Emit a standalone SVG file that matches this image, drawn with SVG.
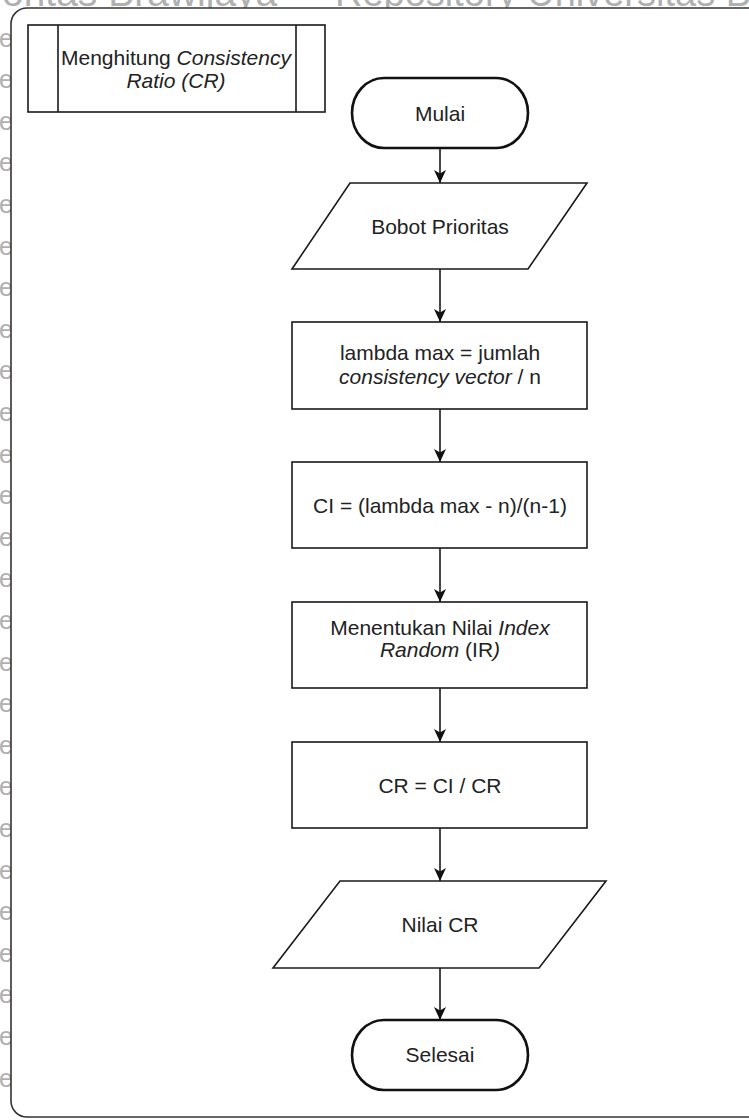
<svg xmlns="http://www.w3.org/2000/svg" width="749" height="1120" viewBox="0 0 749 1120">
  <style>
    .wm { font-family: "Liberation Sans", Arial, sans-serif; fill: #b0b0b0; }
    .wme { font-family: "Liberation Sans", Arial, sans-serif; fill: #b0b0b0; font-size: 25px; }
    .frame { fill: #ffffff; stroke: #333333; stroke-width: 1.6; }
    .shape { fill: #ffffff; stroke: #1a1a1a; stroke-width: 1.6; }
    .term { fill: #ffffff; stroke: #111111; stroke-width: 2.6; }
    .lbl { font-family: "Liberation Sans", Arial, sans-serif; font-size: 21px; fill: #222222; text-anchor: middle; }
    .it { font-style: italic; }
    .conn { stroke: #1a1a1a; stroke-width: 1.6; fill: none; marker-end: url(#arr); }
  </style>
  <defs>
    <marker id="arr" markerUnits="userSpaceOnUse" markerWidth="14" markerHeight="12" refX="13" refY="6" orient="auto">
      <path d="M0,0 L13,6 L0,12 L3.5,6 Z" fill="#111111"/>
    </marker>
  </defs>
  <rect x="0" y="0" width="749" height="1120" fill="#ffffff"/>
  <g id="watermark">
    <text class="wm" x="2" y="6" font-size="39">oritas Brawijaya</text>
    <text class="wm" x="335" y="6" font-size="38">Repository Universitas B</text>
    <text class="wme" x="-1" y="46.5">e</text>
    <text class="wme" x="-1" y="88.1">e</text>
    <text class="wme" x="-1" y="129.7">e</text>
    <text class="wme" x="-1" y="171.3">e</text>
    <text class="wme" x="-1" y="212.9">e</text>
    <text class="wme" x="-1" y="254.5">e</text>
    <text class="wme" x="-1" y="296.1">e</text>
    <text class="wme" x="-1" y="337.7">e</text>
    <text class="wme" x="-1" y="379.3">e</text>
    <text class="wme" x="-1" y="420.9">e</text>
    <text class="wme" x="-1" y="462.5">e</text>
    <text class="wme" x="-1" y="504.1">e</text>
    <text class="wme" x="-1" y="545.7">e</text>
    <text class="wme" x="-1" y="587.3">e</text>
    <text class="wme" x="-1" y="628.9">e</text>
    <text class="wme" x="-1" y="670.5">e</text>
    <text class="wme" x="-1" y="712.1">e</text>
    <text class="wme" x="-1" y="753.7">e</text>
    <text class="wme" x="-1" y="795.3">e</text>
    <text class="wme" x="-1" y="836.9">e</text>
    <text class="wme" x="-1" y="878.5">e</text>
    <text class="wme" x="-1" y="920.1">e</text>
    <text class="wme" x="-1" y="961.7">e</text>
    <text class="wme" x="-1" y="1003.3">e</text>
    <text class="wme" x="-1" y="1044.9">e</text>
    <text class="wme" x="-1" y="1086.5">e</text>
  </g>
  <rect id="frame" class="frame" x="11" y="8" width="760" height="1109" rx="16" ry="16"/>

  <g id="connectors">
    <line class="conn" x1="440" y1="148" x2="440" y2="183"/>
    <line class="conn" x1="440" y1="269" x2="440" y2="322"/>
    <line class="conn" x1="440" y1="409" x2="440" y2="462"/>
    <line class="conn" x1="440" y1="548" x2="440" y2="602"/>
    <line class="conn" x1="440" y1="688" x2="440" y2="742"/>
    <line class="conn" x1="440" y1="828" x2="440" y2="881"/>
    <line class="conn" x1="440" y1="968" x2="440" y2="1020"/>
  </g>

  <g id="title">
    <rect class="shape" x="28" y="25" width="297" height="87"/>
    <line class="shape" x1="58" y1="25" x2="58" y2="112"/>
    <line class="shape" x1="296" y1="25" x2="296" y2="112"/>
    <text class="lbl" x="176" y="65">Menghitung <tspan class="it">Consistency</tspan></text>
    <text class="lbl it" x="176" y="88">Ratio (CR)</text>
  </g>

  <g id="mulai">
    <rect class="term" x="352" y="78" width="176" height="70" rx="32" ry="35"/>
    <text class="lbl" x="440" y="121">Mulai</text>
  </g>

  <g id="bobot">
    <polygon class="shape" points="350,183 587,183 528,269 292,269"/>
    <text class="lbl" x="440" y="234">Bobot Prioritas</text>
  </g>

  <g id="lambda">
    <rect class="shape" x="292" y="322" width="295" height="87"/>
    <text class="lbl" x="440" y="360">lambda max = jumlah</text>
    <text class="lbl" x="440" y="384"><tspan class="it">consistency vector</tspan> / n</text>
  </g>

  <g id="ci">
    <rect class="shape" x="292" y="462" width="295" height="86"/>
    <text class="lbl" x="440" y="513">CI = (lambda max - n)/(n-1)</text>
  </g>

  <g id="ir">
    <rect class="shape" x="292" y="602" width="295" height="86"/>
    <text class="lbl" x="440" y="635">Menentukan Nilai <tspan class="it">Index</tspan></text>
    <text class="lbl" x="440" y="657"><tspan class="it">Random</tspan> (IR<tspan class="it">)</tspan></text>
  </g>

  <g id="cr">
    <rect class="shape" x="292" y="742" width="295" height="86"/>
    <text class="lbl" x="440" y="793">CR = CI / CR</text>
  </g>

  <g id="nilai">
    <polygon class="shape" points="340,881 606,881 539,968 273,968"/>
    <text class="lbl" x="440" y="932">Nilai CR</text>
  </g>

  <g id="selesai">
    <rect class="term" x="352" y="1020" width="176" height="70" rx="32" ry="35"/>
    <text class="lbl" x="440" y="1062">Selesai</text>
  </g>
</svg>
